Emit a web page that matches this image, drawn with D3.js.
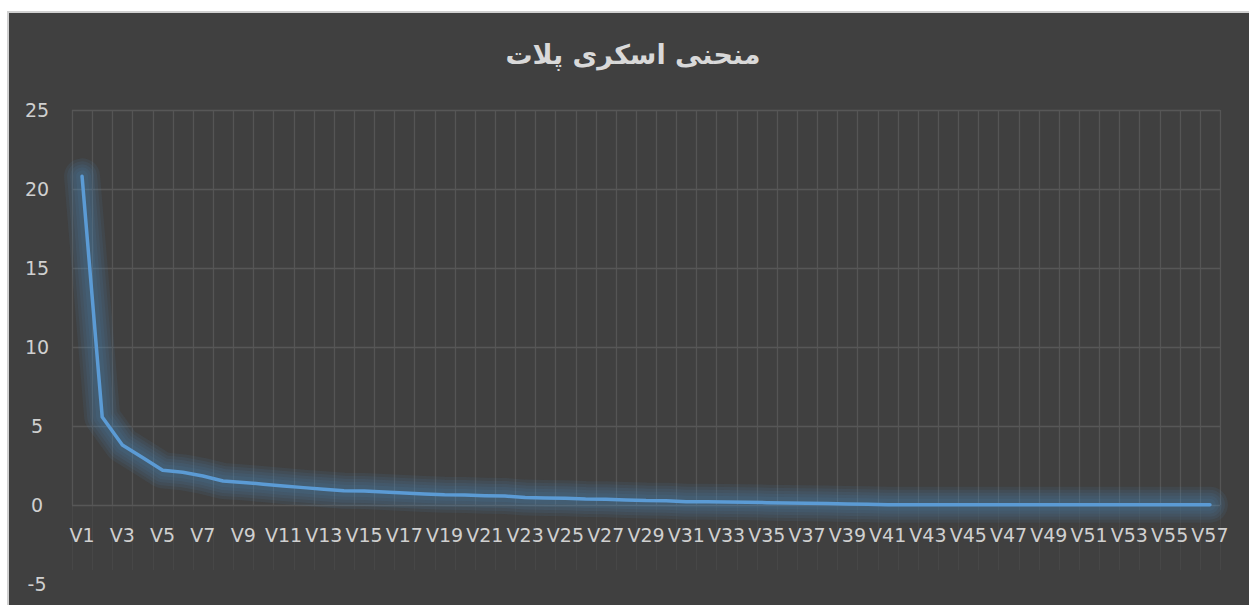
<!DOCTYPE html>
<html><head><meta charset="utf-8">
<script src="https://cdn.jsdelivr.net/npm/d3@7"></script>
<style>
html,body{margin:0;padding:0;background:#fff;overflow:hidden;}
svg{display:block;}
</style></head>
<body>
<svg id="c" width="1249" height="605"></svg>
<script>
const title = "منحنی اسکری پلات";
const categories = Array.from({length:57}, (_, i) => "V" + (i + 1));
const values = [20.8, 5.57, 3.8, 3.0, 2.2, 2.07, 1.84, 1.52, 1.43, 1.32, 1.2, 1.1, 1.0, 0.9, 0.89, 0.82, 0.76, 0.7, 0.65, 0.63,
  0.59, 0.57, 0.47, 0.45, 0.43, 0.38, 0.36, 0.32, 0.28, 0.27, 0.2, 0.2, 0.19, 0.17, 0.15, 0.13, 0.11, 0.09, 0.07, 0.05,
  0.02, 0.02, 0.02, 0.02, 0.02, 0.02, 0.02, 0.02, 0.02, 0.02, 0.02, 0.02, 0.02, 0.02, 0.02, 0.02, 0.02];
const yTicks = [-5, 0, 5, 10, 15, 20, 25];

const svg = d3.select("#c");
// chart frame
svg.append("rect").attr("x", 8).attr("y", 12).attr("width", 1260).attr("height", 620)
  .attr("fill", "#404040").attr("stroke", "#d0d0d0").attr("stroke-width", 2);

const pL = 72, pR = 1220, pT = 110, pB = 584;
const x = d3.scaleBand().domain(categories).range([pL, pR]).padding(0);
const y = d3.scaleLinear().domain([-5, 25]).range([pB, pT]);

// vertical gridlines
const bounds = categories.map(c => x(c)).concat([pR]);
svg.append("g").selectAll("line").data(bounds).join("line")
  .attr("x1", d => Math.round(d) + 0.5).attr("x2", d => Math.round(d) + 0.5)
  .attr("y1", pT).attr("y2", y(0))
  .attr("stroke", "#555555").attr("stroke-width", 1.3);
svg.append("g").selectAll("line").data(bounds).join("line")
  .attr("x1", d => Math.round(d) + 0.5).attr("x2", d => Math.round(d) + 0.5)
  .attr("y1", y(0)).attr("y2", 570)
  .attr("stroke", "#474747").attr("stroke-width", 1.3);
// horizontal gridlines
svg.append("g").selectAll("line").data(yTicks.filter(t => t > -5)).join("line")
  .attr("x1", pL).attr("x2", pR)
  .attr("y1", d => Math.round(y(d)) + 0.5).attr("y2", d => Math.round(y(d)) + 0.5)
  .attr("stroke", "#575757").attr("stroke-width", 1.5);

// line glow: layered soft strokes
const line = d3.line().x((d, i) => x(categories[i]) + x.bandwidth() / 2).y(d => y(d));
const glowG = svg.append("g");
[36, 30, 24, 18, 12].forEach(w => {
  glowG.append("path").datum(values).attr("d", line).attr("fill", "none")
    .attr("stroke", "#4f8cc9").attr("stroke-width", w).attr("stroke-opacity", 0.09)
    .attr("stroke-linejoin", "round").attr("stroke-linecap", "round");
});

// y axis labels
const yAxis = d3.axisLeft(y).tickValues(yTicks).tickSize(0).tickPadding(24).tickFormat(d => String(d));
const ga = svg.append("g").attr("transform", `translate(${pL},0)`).call(yAxis);
ga.select(".domain").remove();
ga.selectAll("text").attr("fill", "#d0d0d0").attr("font-family", "DejaVu Sans, sans-serif").attr("font-size", 19).attr("text-anchor", "middle").attr("dx", "-11");

// x axis labels
const xAxis = d3.axisBottom(x).tickValues(categories.filter((c, i) => i % 2 === 0)).tickSize(0).tickPadding(0);
const gx = svg.append("g").attr("transform", `translate(0,${y(0)})`).call(xAxis);
gx.select(".domain").remove();
gx.selectAll("text").attr("fill", "#d0d0d0").attr("font-family", "DejaVu Sans, sans-serif").attr("font-size", 19).attr("dy", "0").attr("y", 37);

// main line
svg.append("path").datum(values).attr("d", line).attr("fill", "none")
  .attr("stroke", "#5b9bd5").attr("stroke-width", 3.5).attr("stroke-linejoin", "round").attr("stroke-linecap", "round");

// title
svg.append("text").attr("x", 633).attr("y", 64).attr("text-anchor", "middle")
  .attr("fill", "#d9d9d9").attr("font-family", "DejaVu Sans, sans-serif").attr("font-weight", "bold").attr("font-size", 27)
  .attr("direction", "rtl").text(title);
</script>
</body></html>
